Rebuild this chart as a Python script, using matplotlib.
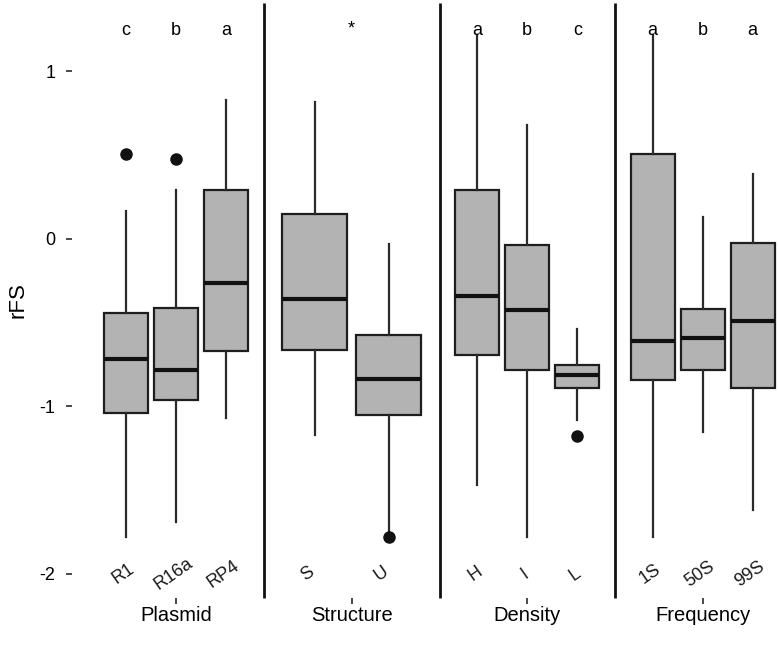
import numpy as np
import matplotlib
matplotlib.use('Agg')
import matplotlib.pyplot as plt

plt.rcParams['font.family'] = ['Liberation Sans', 'DejaVu Sans']

# datos
panels = ['Plasmid', 'Structure', 'Density', 'Frequency']
cats = [['R1', 'R16a', 'RP4'], ['S', 'U'], ['H', 'I', 'L'], ['1S', '50S', '99S']]
letters = [['c', 'b', 'a'], ['*'], ['a', 'b', 'c'], ['a', 'b', 'a']]

whislo = [[-1.78, -1.69, -1.07], [-1.17, -1.76], [-1.47, -1.78, -1.08], [-1.78, -1.155, -1.62]]
q1 = [[-1.04, -0.96, -0.67], [-0.665, -1.05], [-0.69, -0.78, -0.89], [-0.84, -0.78, -0.89]]
med = [[-0.715, -0.78, -0.26], [-0.357, -0.836], [-0.34, -0.425, -0.81], [-0.61, -0.59, -0.49]]
q3 = [[-0.44, -0.41, 0.29], [0.15, -0.575], [0.29, -0.035, -0.75], [0.51, -0.415, -0.025]]
whishi = [[0.17, 0.29, 0.83], [0.82, -0.03], [1.22, 0.68, -0.535], [1.22, 0.13, 0.39]]
fliers = [[[0.505], [0.48], []], [[], [-1.78]], [[], [], [-1.175]], [[], [], []]]

W, H = 779, 645
fig = plt.figure(figsize=(W / 100, H / 100), dpi=100)

pw = 175.5          # ancho de cada panel en px
x0 = 88.5
ybot, ytop = 598, 3
ylim = ((239 - ybot) / 167.5, (239 - ytop) / 167.5)

grey = '#b3b3b3'
dark = '#2a2a2a'

for i, name in enumerate(panels):
    n = len(cats[i])
    left = (x0 + pw * i) / W
    ax = fig.add_axes([left, (H - ybot) / H, pw / W, (ybot - ytop) / H])
    ax.patch.set_visible(False)  # que no tape la linea del panel anterior
    pos = np.arange(n)
    spacing = 50.0 if n == 3 else 74.0
    half = pw / 2 / spacing
    mid = (n - 1) / 2
    stats = []
    for j in range(n):
        stats.append(dict(med=med[i][j], q1=q1[i][j], q3=q3[i][j],
                          whislo=whislo[i][j], whishi=whishi[i][j],
                          fliers=fliers[i][j]))
    ax.bxp(stats, positions=pos, widths=0.88, showcaps=False, patch_artist=True,
           boxprops=dict(facecolor=grey, edgecolor='#1e1e1e', linewidth=1.6),
           medianprops=dict(color='#111111', linewidth=3),
           whiskerprops=dict(color=dark, linewidth=1.6),
           flierprops=dict(marker='o', markerfacecolor='#111111',
                           markeredgecolor='#111111', markersize=8))
    ax.set_xlim(mid - half, mid + half)
    ax.set_ylim(*ylim)

    # letras de significancia
    if len(letters[i]) == n:
        for j, l in enumerate(letters[i]):
            ax.text(pos[j], 1.245, l, ha='center', va='center', fontsize=13)
    else:
        ax.text(mid, 1.255, letters[i][0], ha='center', va='center', fontsize=13)

    # etiquetas de categoria dentro del panel
    for j, c in enumerate(cats[i]):
        ax.text(pos[j] - 0.05 * (3 - n + 1), -2.0, c, ha='center', va='center',
                rotation=35, fontsize=13, color='#1a1a1a')

    for s in ['top', 'bottom', 'left']:
        ax.spines[s].set_visible(False)
    if i < 3:
        ax.spines['right'].set_linewidth(2.0)
        ax.spines['right'].set_color('#111111')
        ax.spines['right'].set_capstyle('butt')
    else:
        ax.spines['right'].set_visible(False)

    ax.set_xticks([mid])
    ax.set_xticklabels([name], fontsize=14.5)
    ax.tick_params(axis='x', length=4, width=1.2, color=dark, pad=1.5)

    if i == 0:
        ax.spines['left'].set_position(('outward', 12))
        ax.set_yticks([-2, -1, 0, 1])
        ax.set_yticklabels(['-2', '-1', '0', '1'], fontsize=13)
        ax.tick_params(axis='y', length=4, width=1.2, color=dark, pad=8)
        ax.set_ylabel('rFS', fontsize=16)
        ax.yaxis.set_label_coords(-0.34, 0.5)
    else:
        ax.set_yticks([])

plt.savefig('out.png', dpi=100)
